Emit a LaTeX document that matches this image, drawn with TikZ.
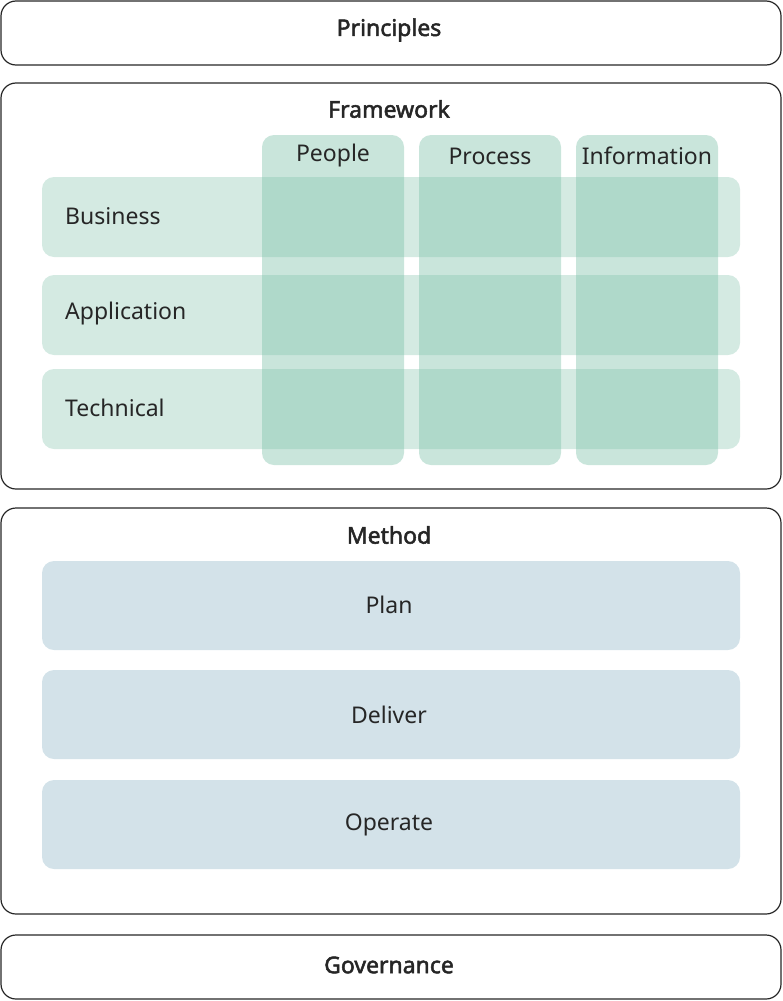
\documentclass[tikz,border=0pt]{standalone}
\usepackage{fontspec}
\setmainfont{Noto Sans}[AutoFakeBold=2.2]
\begin{document}
\begin{tikzpicture}[x=1pt,y=-1pt,
  outer/.style={draw=black!85,line width=1.2pt,rounded corners=15pt},
  rowbox/.style={fill={rgb,255:red,120;green,190;blue,165},fill opacity=0.32,rounded corners=12pt},
  colbox/.style={fill={rgb,255:red,120;green,190;blue,165},fill opacity=0.4,rounded corners=12pt},
  methbox/.style={fill={rgb,255:red,211;green,226;blue,233},rounded corners=12pt},
  ttl/.style={font=\fontsize{23}{27}\selectfont\bfseries,text=black!85},
  lbl/.style={font=\fontsize{23}{27}\selectfont,text=black!85}]
\useasboundingbox (0,0) rectangle (783,1001);
\draw[outer] (1,1) rectangle (781,65);
\node[ttl] (principles) at (389,30) {Principles};
\draw[outer] (1,83) rectangle (781,489);
\node[ttl] (framework) at (389,109) {Framework};
\draw[outer] (1,508) rectangle (781,914);
\node[ttl] (method) at (389,535) {Method};
\draw[outer] (1,935) rectangle (781,999);
\node[ttl] (governance) at (389,965) {Governance};
% rows
\fill[rowbox] (42,177) rectangle (740,257);
\fill[rowbox] (42,275) rectangle (740,355);
\fill[rowbox] (42,369) rectangle (740,449);
\node[lbl,anchor=west,inner sep=0pt] (business) at (65,216) {Business};
\node[lbl,anchor=west,inner sep=0pt] (application) at (65,314) {Application};
\node[lbl,anchor=west,inner sep=0pt] (technical) at (65,408) {Technical};
% columns
\fill[colbox] (262,135) rectangle (404,465);
\fill[colbox] (419,135) rectangle (561,465);
\fill[colbox] (576,135) rectangle (718,465);
\node[lbl] (people) at (333,156) {People};
\node[lbl] (process) at (490,156) {Process};
\node[lbl] (information) at (647,156) {Information};
% method
\fill[methbox] (42,561) rectangle (740,650);
\fill[methbox] (42,670) rectangle (740,759);
\fill[methbox] (42,780) rectangle (740,869);
\node[lbl] (plan) at (389,605) {Plan};
\node[lbl] (deliver) at (389,715) {Deliver};
\node[lbl] (operate) at (389,825) {Operate};
\end{tikzpicture}
\end{document}
